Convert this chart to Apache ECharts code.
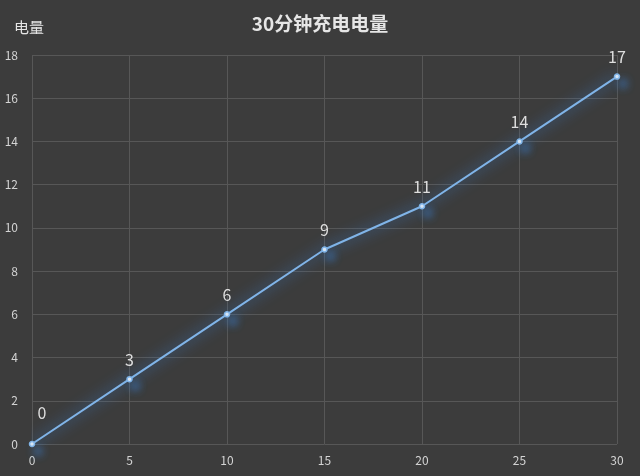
<!DOCTYPE html>
<html>
<head>
<meta charset="utf-8">
<script src="https://cdn.jsdelivr.net/npm/echarts@6/dist/echarts.min.js"></script>
<style>
  html, body { margin: 0; padding: 0; background: #3c3c3c; }
  #main { width: 640px; height: 476px; }
</style>
</head>
<body>
<div id="main"></div>
<script>
// 充电时间（分钟）
var minutes = [0, 5, 10, 15, 20, 25, 30];
// 电量
var charge = [0, 3, 6, 9, 11, 14, 17];

var chart = echarts.init(document.getElementById('main'));

var points = minutes.map(function (m, i) { return [m, charge[i]]; });

var option = {
  backgroundColor: '#3c3c3c',
  textStyle: { fontFamily: 'Noto Sans CJK SC' },
  title: {
    text: '30分钟充电电量',
    left: 'center',
    top: 9,
    textStyle: { color: '#e6e6e6', fontSize: 19, fontWeight: 'bold', fontFamily: 'Noto Sans CJK SC' }
  },
  grid: { left: 32, right: 23, top: 55, bottom: 32 },
  xAxis: {
    type: 'value',
    min: 0, max: 30, interval: 5,
    axisLine: { show: false },
    axisTick: { show: false },
    axisLabel: { color: '#d4d4d4', fontSize: 12, margin: 10 },
    splitLine: { show: true, lineStyle: { color: '#575757', width: 1 } }
  },
  yAxis: {
    type: 'value',
    name: '电量',
    nameLocation: 'end',
    nameGap: 20,
    nameTextStyle: { color: '#e6e6e6', fontSize: 15, align: 'left', padding: [0, 0, 0, -18] },
    min: 0, max: 18, interval: 2,
    axisLine: { show: false },
    axisTick: { show: false },
    axisLabel: { color: '#d4d4d4', fontSize: 12, margin: 14 },
    splitLine: { lineStyle: { color: '#575757', width: 1 } }
  },
  series: [{
    type: 'line',
    data: points,
    symbol: 'circle',
    symbolSize: 5,
    lineStyle: {
      color: '#80b4e8', width: 2,
      shadowColor: 'rgba(60,140,235,1)', shadowBlur: 14
    },
    itemStyle: {
      color: '#dbe8f5',
      borderColor: '#80b4e8', borderWidth: 1.5,
      shadowColor: 'rgba(60,130,210,1)', shadowBlur: 8,
      shadowOffsetX: 6, shadowOffsetY: 7
    },
    label: {
      show: true,
      position: 'top',
      distance: 8,
      color: '#dedede',
      fontSize: 16
    },
    labelLayout: function (params) {
      if (params.dataIndex === 0) {
        return { dx: 10, dy: -12 };
      }
      return {};
    }
  }]
};

chart.setOption(option);
</script>
</body>
</html>
